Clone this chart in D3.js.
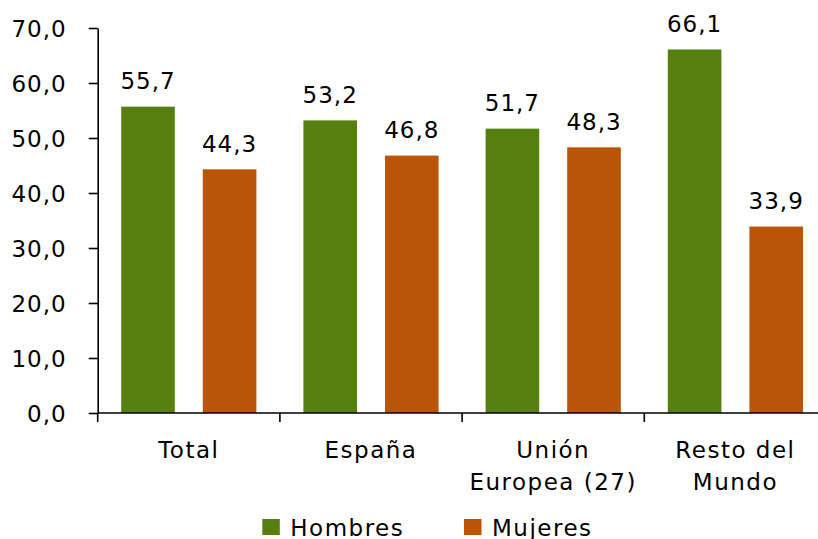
<!DOCTYPE html>
<html>
<head>
<meta charset="utf-8">
<script src="https://cdn.jsdelivr.net/npm/d3@7"></script>
<style>
  body { margin: 0; background: #fff; }
  svg { display: block; overflow: hidden; }
  text { font-family: "DejaVu Sans", sans-serif; fill: #000; }
</style>
</head>
<body>
<div id="viz"></div>
<script>
var width = 818;
var height = 539;

// data
var categories = ["Total", "España", "Unión Europea (27)", "Resto del Mundo"];
var categoryLines = [["Total"], ["España"], ["Unión", "Europea (27)"], ["Resto del", "Mundo"]];
var series = ["Hombres", "Mujeres"];
var hombres = [55.7, 53.2, 51.7, 66.1];
var mujeres = [44.3, 46.8, 48.3, 33.9];
var yTicks = [0, 10, 20, 30, 40, 50, 60, 70];
var colors = ["#55800f", "#ba5508"];

var fmt = function(v, digits) { return v.toFixed(digits).replace(".", ","); };

var svg = d3.select("#viz")
  .append("svg")
  .attr("width", width)
  .attr("height", height);

// scales (chart runs off the right edge, like the original)
var x = d3.scaleBand()
  .domain(categories)
  .range([97.7, 826.5])
  .padding(0);

var xInner = d3.scaleBand()
  .domain(series)
  .range([23.5, 158.7])
  .paddingInner(0.343)
  .paddingOuter(0);

var y = d3.scaleLinear()
  .domain([0, 70])
  .range([413, 28]);

// y axis
var yAxis = svg.append("g")
  .attr("transform", "translate(" + x.range()[0] + ",0)")
  .call(d3.axisLeft(y).tickValues(yTicks).tickSize(9).tickSizeOuter(0).tickPadding(22)
    .tickFormat(function(d) { return fmt(d, 1); }));
yAxis.select(".domain").attr("stroke", "#000").attr("stroke-width", 1.6);
yAxis.selectAll(".tick line").attr("stroke", "#000").attr("stroke-width", 1.6);
yAxis.selectAll(".tick text")
  .style("font-family", "DejaVu Sans, sans-serif")
  .style("font-size", "23px")
  .style("letter-spacing", "1px")
  .attr("dy", "0.36em");

// bars
var rows = categories.map(function(c, i) {
  return { cat: c, values: [hombres[i], mujeres[i]] };
});

var groups = svg.selectAll(".group")
  .data(rows)
  .enter()
  .append("g")
  .attr("class", "group")
  .attr("transform", function(d) { return "translate(" + x(d.cat) + ",0)"; });

groups.selectAll("rect")
  .data(function(d) { return d.values.map(function(v, j) { return { s: series[j], v: v, j: j }; }); })
  .enter()
  .append("rect")
  .attr("x", function(d) { return xInner(d.s); })
  .attr("y", function(d) { return y(d.v); })
  .attr("width", xInner.bandwidth())
  .attr("height", function(d) { return y(0) - y(d.v); })
  .style("fill", function(d) { return colors[d.j]; });

groups.selectAll(".val")
  .data(function(d) { return d.values.map(function(v, j) { return { s: series[j], v: v }; }); })
  .enter()
  .append("text")
  .attr("class", "val")
  .attr("x", function(d) { return xInner(d.s) + xInner.bandwidth() / 2; })
  .attr("y", function(d) { return y(d.v) - 17.5; })
  .attr("text-anchor", "middle")
  .style("font-size", "23px")
  .style("letter-spacing", "1px")
  .text(function(d) { return fmt(d.v, 1); });

// x axis
var xAxis = svg.append("g");
xAxis.append("line")
  .attr("x1", x.range()[0])
  .attr("x2", x.range()[1])
  .attr("y1", y(0))
  .attr("y2", y(0))
  .attr("stroke", "#000")
  .attr("stroke-width", 1.6);

xAxis.selectAll(".xtick")
  .data(categories.concat([null]))
  .enter()
  .append("line")
  .attr("class", "xtick")
  .attr("x1", function(d) { return d ? x(d) : x.range()[1]; })
  .attr("x2", function(d) { return d ? x(d) : x.range()[1]; })
  .attr("y1", y(0))
  .attr("y2", y(0) + 9)
  .attr("stroke", "#000")
  .attr("stroke-width", 1.6);

var catLabels = xAxis.selectAll(".cat")
  .data(categories)
  .enter()
  .append("text")
  .attr("class", "cat")
  .attr("text-anchor", "middle")
  .attr("transform", function(d) { return "translate(" + (x(d) + x.bandwidth() / 2) + ",458)"; })
  .style("font-size", "23px")
  .style("letter-spacing", "1.5px");

catLabels.selectAll("tspan")
  .data(function(d, i) { return categoryLines[i]; })
  .enter()
  .append("tspan")
  .attr("x", 0)
  .attr("y", function(d, i) { return i * 32; })
  .text(function(d) { return d; });

// legend
var legendX = [262.3, 464];
var legend = svg.selectAll(".legenditem")
  .data(series)
  .enter()
  .append("g")
  .attr("class", "legenditem")
  .attr("transform", function(d, i) { return "translate(" + legendX[i] + ",519)"; });

legend.append("rect")
  .attr("width", 17.5)
  .attr("height", 16)
  .style("fill", function(d, i) { return colors[i]; });

legend.append("text")
  .attr("x", 28)
  .attr("y", 16.5)
  .style("font-size", "23px")
  .style("letter-spacing", "1.5px")
  .text(function(d) { return d; });
</script>
</body>
</html>
